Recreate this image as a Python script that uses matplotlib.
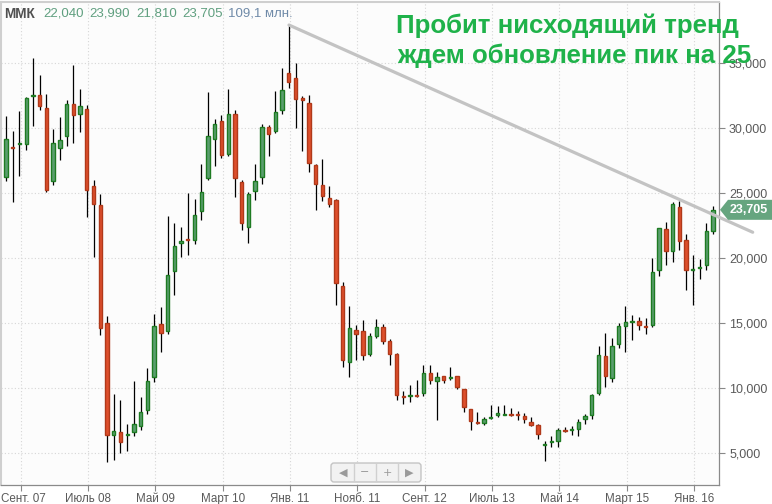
import matplotlib
matplotlib.use("Agg")
import matplotlib.pyplot as plt
import numpy as np
from matplotlib.patches import Polygon, FancyBboxPatch
from matplotlib.transforms import IdentityTransform, ScaledTranslation

plt.rcParams['font.family'] = ['Liberation Sans', 'DejaVu Sans']

# ММК, месячные свечи, июль 2007 - апрель 2016 (руб.)
opens = [26.23, 28.55, 28.78, 28.77, 32.45, 32.56, 31.54, 25.90, 28.46, 29.36,
         31.85, 31.08, 31.46, 25.56, 24.10, 15.00, 6.36, 6.62, 6.40, 6.59,
         7.05, 8.31, 10.85, 14.95, 14.36, 19.00, 21.13, 21.46, 21.38, 23.59,
         26.15, 29.15, 30.56, 27.97, 31.10, 25.85, 22.38, 25.15, 26.23, 30.08,
         29.77, 31.41, 34.23, 33.85, 32.31, 31.92, 27.13, 25.64, 24.62, 24.46,
         17.87, 12.00, 14.44, 14.38, 12.59, 14.00, 14.69, 13.62, 12.62, 9.41,
         9.38, 9.46, 9.62, 11.15, 10.54, 10.92, 10.77, 10.92, 9.92, 8.36,
         7.41, 7.28, 7.67, 7.90, 7.95, 8.00, 8.00, 7.85, 7.38, 7.15,
         5.64, 5.87, 5.92, 6.77, 6.77, 6.82, 7.59, 7.92, 9.59, 12.46,
         10.79, 13.38, 14.74, 15.05, 15.15, 14.79, 14.82, 19.08, 22.23, 20.51,
         23.92, 21.38, 19.05, 19.23, 19.44, 22.04]
highs = [30.95, 29.74, 31.28, 32.40, 35.38, 34.10, 32.64, 29.92, 30.85, 32.18,
         34.87, 33.00, 31.77, 26.03, 24.95, 15.56, 9.56, 9.05, 7.26, 10.51,
         9.31, 11.54, 15.72, 16.23, 23.26, 22.69, 22.38, 25.00, 24.54, 27.26,
         32.74, 30.72, 31.03, 33.03, 31.41, 26.03, 25.05, 27.26, 30.33, 30.23,
         32.82, 34.62, 37.95, 35.00, 32.49, 32.54, 27.20, 27.62, 25.56, 24.54,
         18.18, 16.28, 14.87, 15.26, 14.23, 15.31, 14.95, 13.77, 12.69, 9.79,
         10.26, 10.64, 11.79, 11.79, 11.26, 10.95, 11.64, 10.95, 9.95, 8.40,
         8.15, 7.77, 8.72, 8.64, 8.72, 8.46, 8.23, 8.08, 7.74, 7.20,
         5.92, 6.33, 6.92, 7.00, 7.10, 7.62, 7.97, 9.50, 13.23, 14.20,
         13.82, 15.00, 16.33, 15.64, 15.46, 15.38, 20.00, 22.30, 22.77, 24.28,
         24.36, 21.85, 20.23, 19.95, 22.67, 23.99]
lows = [25.90, 24.28, 26.33, 28.28, 30.13, 31.36, 25.05, 25.59, 27.51, 28.59,
        28.85, 29.67, 23.13, 20.05, 14.05, 4.28, 4.44, 5.00, 5.13, 6.28,
        6.74, 8.00, 10.44, 12.74, 14.18, 17.18, 20.08, 20.21, 21.05, 22.95,
        26.03, 27.05, 27.67, 27.82, 24.67, 22.13, 21.15, 24.49, 25.72, 27.82,
        29.59, 31.10, 33.08, 29.97, 28.21, 26.59, 23.67, 24.36, 23.90, 16.41,
        11.59, 10.82, 12.18, 12.13, 12.44, 13.82, 13.36, 11.79, 9.05, 8.79,
        8.90, 9.31, 9.36, 10.28, 7.51, 10.36, 10.59, 9.92, 8.13, 6.74,
        7.21, 7.13, 7.62, 7.77, 7.90, 7.82, 7.56, 7.28, 7.05, 6.08,
        4.36, 5.44, 5.44, 6.59, 6.41, 6.28, 7.21, 7.59, 9.44, 10.10,
        10.48, 13.08, 12.74, 13.67, 14.44, 14.13, 14.69, 18.64, 19.49, 19.67,
        20.59, 17.51, 16.36, 18.38, 19.05, 21.81]
closes = [29.18, 28.45, 28.86, 32.31, 32.55, 31.67, 25.21, 28.85, 29.10, 31.85,
          30.97, 31.69, 25.26, 24.13, 14.62, 6.36, 6.67, 5.85, 6.45, 7.23,
          8.15, 10.54, 14.77, 14.23, 18.69, 20.92, 21.33, 21.36, 23.31, 25.08,
          29.38, 30.31, 27.90, 31.10, 26.15, 22.69, 24.95, 25.92, 30.08, 29.54,
          31.23, 32.92, 33.54, 32.23, 32.15, 27.31, 25.69, 24.74, 24.13, 18.08,
          12.15, 14.62, 14.15, 12.54, 14.00, 14.69, 13.62, 12.62, 9.44, 9.31,
          9.46, 9.38, 11.15, 10.62, 10.85, 10.62, 10.85, 10.08, 8.54, 7.46,
          7.31, 7.62, 7.77, 8.08, 8.00, 7.95, 7.95, 7.59, 7.13, 6.46,
          5.69, 5.92, 6.74, 6.69, 6.85, 7.38, 7.85, 9.46, 12.54, 10.95,
          13.23, 14.74, 15.05, 15.15, 14.82, 14.69, 18.92, 22.28, 20.51, 24.18,
          21.28, 19.10, 19.15, 19.33, 22.08, 23.705]

tick_pos = [2, 12, 22, 32, 42, 52, 62, 72, 82, 92, 102]
tick_labels = ["Сент. 07", "Июль 08", "Май 09", "Март 10", "Янв. 11", "Нояб. 11",
               "Сент. 12", "Июль 13", "Май 14", "Март 15", "Янв. 16"]
y_ticks = [5, 10, 15, 20, 25, 30, 35]

# линия тренда: от пика янв. 2011 вниз
trend_x = [42.03, 110.9]
trend_y = [37.92, 21.98]

W, H = 772, 504
fig = plt.figure(figsize=(W / 100, H / 100), dpi=100)
ax = fig.add_axes([1 / W, 1 - 485 / H, 718.3 / W, 483 / H])
ax.set_facecolor('#fcfcfc')

x = np.arange(len(opens))
o = np.array(opens)
c = np.array(closes)
up = c >= o
green_fill, green_edge = '#5a9e6e', '#1e7b22'
red_fill, red_edge = '#de4f2c', '#b0391a'

ax.vlines(x, lows, highs, color='black', lw=0.9, zorder=2)
body = np.where(np.abs(c - o) < 0.06, 0.06 * np.where(up, 1, -1), c - o)
ax.bar(x[up], body[up], bottom=o[up], width=0.5, color=green_fill,
       edgecolor=green_edge, linewidth=1, zorder=3)
ax.bar(x[~up], body[~up], bottom=o[~up], width=0.5, color=red_fill,
       edgecolor=red_edge, linewidth=1, zorder=3)

ax.plot(trend_x, trend_y, color='#c3c3c3', lw=2.3, solid_capstyle='round',
        clip_on=False, zorder=4)

ax.set_xlim(-0.743, 105.94)
ax.set_ylim(2.538, 39.69)

ax.set_xticks([p + 0.2 for p in tick_pos])
ax.set_xticklabels(tick_labels)
ax.set_yticks(y_ticks)
ax.set_yticklabels([f"{v:.3f}".replace('.', ',') for v in y_ticks])
ax.yaxis.tick_right()
ax.tick_params(axis='both', colors='#888888', labelcolor='#5a5a5a',
               length=4, width=0.8, direction='out')
ax.tick_params(axis='x', labelsize=8.4, pad=2)
ax.tick_params(axis='y', labelsize=9, pad=3)
# первая подпись чуть правее, чтобы не обрезалась
first = ax.get_xticklabels()[0]
first.set_transform(first.get_transform() + ScaledTranslation(2.5 / 100, 0, fig.dpi_scale_trans))
ax.grid(True, color='#d6d6d6', lw=0.8, ls=(0, (1, 2)))
ax.set_axisbelow(True)
for s in ['left', 'top']:
    ax.spines[s].set_color('#cfcfcf')
    ax.spines[s].set_linewidth(1.5)
for s in ['right', 'bottom']:
    ax.spines[s].set_color('#8a8a8a')
    ax.spines[s].set_linewidth(0.9)

# шапка
hy = 1 - 13.5 / H
fig.text(4 / W, hy, "ММК", fontsize=9.8, fontweight='bold', color='#505050', va='center')
for xp, t in zip([43, 89, 136, 182], ["22,040", "23,990", "21,810", "23,705"]):
    fig.text(xp / W, hy, t, fontsize=9.5, color='#5f9f7f', va='center')
fig.text(228 / W, hy, "109,1 млн.", fontsize=9.5, color='#6f8aa8', va='center')

# подпись
fig.text(396 / W, 1 - 33.3 / H, "Пробит нисходящий тренд", fontsize=18.6,
         fontweight='bold', color='#1fb24a', va='baseline', zorder=10)
fig.text(397 / W, 1 - 63.3 / H, "ждем обновление пик на 25", fontsize=18.6,
         fontweight='bold', color='#1fb24a', va='baseline', zorder=10)

# метка последней цены
yd = ax.transData.transform((0, closes[-1]))[1]
tag = Polygon([(720, yd), (728, yd + 10), (772, yd + 10), (772, yd - 10), (728, yd - 10)],
              closed=True, fc='#66a57f', ec='none', transform=IdentityTransform(), zorder=5)
fig.add_artist(tag)
fig.text(749 / W, yd / H, f"{closes[-1]:.3f}".replace('.', ','), fontsize=9,
         fontweight='bold', color='white', ha='center', va='center', zorder=6)

# навигатор
nav = FancyBboxPatch((331, H - 482), 90, 19, boxstyle='round,pad=0,rounding_size=3',
                     fc='#f2f2f2', ec='#c4c4c4', lw=1, transform=IdentityTransform(), zorder=5)
fig.add_artist(nav)
for sx in [354, 376, 398]:
    fig.add_artist(plt.Line2D([sx, sx], [H - 481, H - 464], color='#d0d0d0', lw=1,
                              transform=IdentityTransform(), zorder=6))
for sx, sym in zip([343, 365, 387, 409], ["◀", "−", "+", "▶"]):
    fig.text(sx / W, (H - 472.5) / H, sym, fontsize=8, color='#9a9a9a',
             ha='center', va='center', family='DejaVu Sans', zorder=7)

fig.savefig("out.png", dpi=100)
